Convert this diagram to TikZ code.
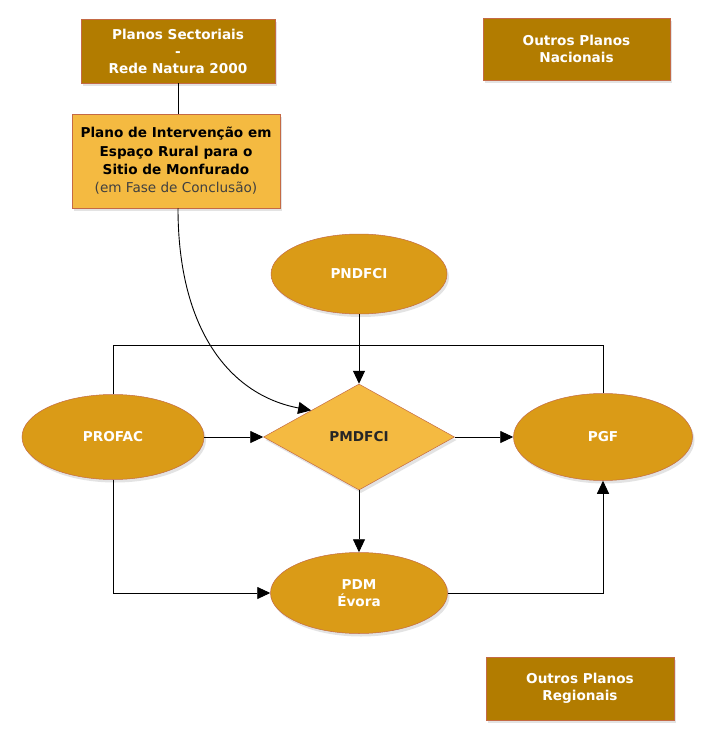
\documentclass[tikz,border=0pt]{standalone}
\usepackage{fontspec}
\setmainfont{DejaVu Sans}
\usetikzlibrary{shapes.geometric,arrows.meta,shadows}
\definecolor{darkgold}{HTML}{B27C00}
\definecolor{lightgold}{HTML}{F4BA41}
\definecolor{ellgold}{HTML}{DA9B17}
\definecolor{edgered}{HTML}{C46A45}
\tikzset{
  x=1pt,y=-1pt,
  shad/.style={drop shadow={shadow xshift=2pt,shadow yshift=-3pt,opacity=0.18,fill=black!60}},
  txt/.style={font=\fontsize{13.6}{17}\selectfont\bfseries},
  darkbox/.style={draw=edgered,line width=0.5pt,fill=darkgold,shad,minimum width=194pt,minimum height=64pt,align=center,text=white,txt,inner sep=0pt},
  lightbox/.style={draw=edgered,line width=0.5pt,fill=lightgold,shad,minimum width=208pt,minimum height=94pt,align=center,text=black,font=\fontsize{13.6}{18.3}\selectfont\bfseries,inner sep=0pt},
  ell/.style={ellipse,draw=edgered,line width=0.5pt,fill=ellgold,shad,text=white,txt,align=center,inner sep=0pt},
  dia/.style={diamond,draw=edgered,line width=0.5pt,fill=lightgold,shad,text=black!85,txt,inner sep=0pt,minimum width=191pt,minimum height=106pt,aspect=1.8},
  conn/.style={line width=0.9pt,black},
  arr/.style={conn,-{Triangle[length=13pt,width=12pt]}}
}
\begin{document}
\begin{tikzpicture}
\useasboundingbox[fill=white] (0,0) rectangle (714,738);
\node[darkbox] (ps) at (178,51) {Planos Sectoriais\\-\\Rede Natura 2000};
\node[lightbox] (pi) at (176,161) {Plano de Intervenção em\\Espaço Rural para o\\Sitio de Monfurado\\{\mdseries\color{black!75}(em Fase de Conclusão)}};
\node[darkbox,minimum width=187pt,minimum height=62pt] (opn) at (576.5,49) {Outros Planos\\Nacionais};
\node[darkbox,minimum width=188pt,minimum height=63pt] (opr) at (580,688.5) {Outros Planos\\Regionais};
\node[ell,minimum width=176pt,minimum height=80pt] (pnd) at (359,274) {PNDFCI};
\node[ell,minimum width=182pt,minimum height=85pt] (prof) at (113,437) {PROFAC};
\node[ell,minimum width=179pt,minimum height=87pt] (pgf) at (603,437) {PGF};
\node[ell,minimum width=177pt,minimum height=81pt] (pdm) at (359,593) {PDM\\Évora};
\node[dia] (pm) at (359,437) {PMDFCI};
\coordinate (c1) at (178,114);
\draw[conn] (ps.south -| c1) -- (pi.north -| c1);
\coordinate (c2) at (178,208);
\draw[arr] (pi.south -| c2) .. controls (178,330) and (230,395) .. (pm.north west);
\draw[arr] (pnd) -- (pm);
\coordinate (topy) at (0,345);
\draw[conn] (prof.north) -- (prof.north |- topy) -- (pgf.north |- topy) -- (pgf.north);
\draw[arr] (prof) -- (pm);
\draw[arr] (pm) -- (pgf);
\draw[arr] (pm) -- (pdm);
\draw[arr] (prof.south) |- (pdm.west);
\draw[arr] (pdm.east) -| (pgf.south);
\end{tikzpicture}
\end{document}
